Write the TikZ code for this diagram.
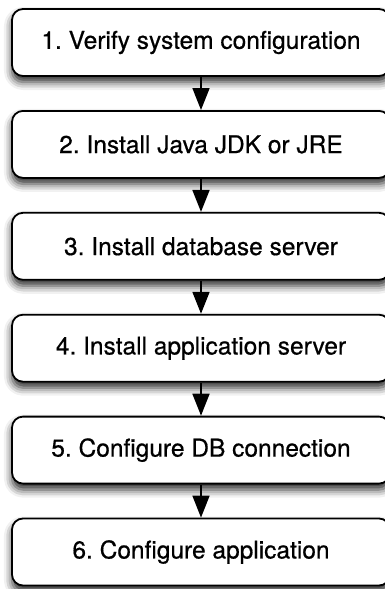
\documentclass[tikz,border=0pt]{standalone}
\usepackage{fontspec}
\setmainfont{TeX Gyre Heros}
\newfontfamily\boxfont{TeX Gyre Heros}[FakeBold=0.6]
\frenchspacing
\usetikzlibrary{shadows.blur,arrows.meta}
\begin{document}
\begin{tikzpicture}[x=1pt,y=1pt,
  stepbox/.style={draw=black, line width=1.8pt, rounded corners=11pt, fill=white,
    minimum width=378pt, minimum height=67pt, inner sep=0pt,
    font=\boxfont\fontsize{24.5}{28}\selectfont\frenchspacing,
    blur shadow={shadow xshift=0pt, shadow yshift=-6pt, shadow blur radius=8pt, shadow opacity=85}},
  flow/.style={draw=black, line width=1.8pt, -{Triangle[length=22pt,width=17pt]}}]
\useasboundingbox (0,0) rectangle (384,-589);
\node[stepbox] (s1) at (201,-42.5) {1. Verify system configuration};
\node[stepbox] (s2) at (201,-144.4) {2. Install Java JDK or JRE};
\node[stepbox] (s3) at (201,-246.3) {3. Install database server};
\node[stepbox] (s4) at (201,-348.2) {4. Install application server};
\node[stepbox] (s5) at (201,-450.1) {5. Configure DB connection};
\node[stepbox] (s6) at (201,-552) {6. Configure application};
\foreach \a/\b in {s1/s2,s2/s3,s3/s4,s4/s5,s5/s6}
  \draw[flow] (\a.south) -- (\b.north);
\end{tikzpicture}
\end{document}
